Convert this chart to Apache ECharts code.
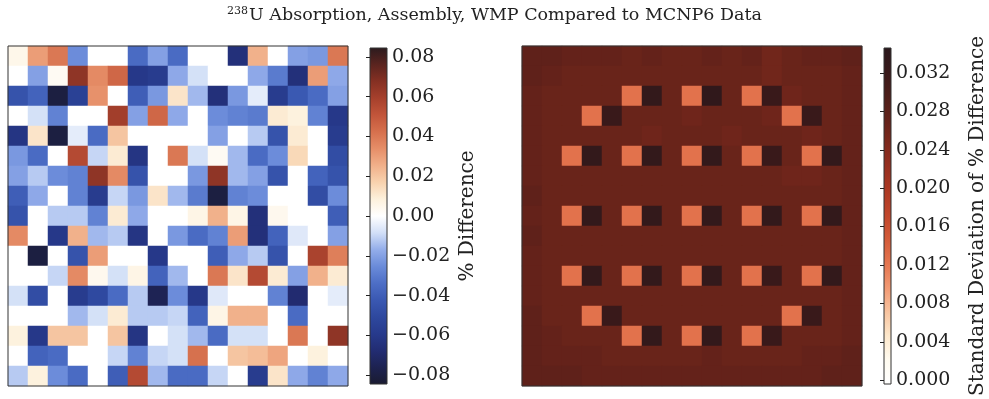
<!DOCTYPE html>
<html>
<head>
<meta charset="utf-8">
<script src="https://cdn.jsdelivr.net/npm/echarts@6/dist/echarts.min.js"></script>
<style>
  html, body { margin: 0; padding: 0; background: #fff; }
  #main { width: 989px; height: 399px; }
</style>
</head>
<body>
<div id="main"></div>
<script>
// % difference per pin, rows top to bottom
var diffRows = [
  [0.005, 0.03, 0.04, -0.025, 0, 0, -0.035, -0.02, -0.035, 0, 0, -0.065, 0.025, 0, -0.02, -0.022, 0.04],
  [0, -0.02, 0.003, 0.065, 0.035, 0.045, -0.06, -0.058, -0.018, -0.008, 0, 0, -0.018, -0.03, -0.065, 0.03, -0.018],
  [-0.045, -0.038, -0.08, -0.055, 0.033, 0, -0.04, -0.022, 0.012, -0.015, -0.065, -0.022, -0.005, -0.058, -0.042, -0.035, -0.02],
  [0, -0.008, -0.028, 0, 0, 0.06, -0.02, 0.045, -0.018, 0, -0.025, -0.028, -0.03, 0.01, 0.008, -0.028, -0.06],
  [-0.062, 0.012, -0.08, -0.005, -0.035, 0.02, 0, 0, 0, 0, -0.02, 0, -0.012, -0.045, 0.01, 0, -0.058],
  [-0.022, -0.035, 0, 0.055, -0.01, 0.01, -0.062, 0, 0.04, -0.008, 0.003, -0.015, -0.035, -0.025, 0.015, 0, -0.048],
  [-0.02, -0.012, -0.025, -0.028, 0.065, 0.035, -0.045, 0, 0, -0.022, 0.065, -0.015, -0.02, -0.045, 0, -0.038, -0.045],
  [-0.04, -0.018, 0, -0.028, -0.058, -0.01, -0.022, 0.012, -0.015, -0.03, -0.08, -0.028, -0.025, 0, 0, -0.048, -0.025],
  [-0.045, 0, -0.012, -0.012, -0.028, 0.01, -0.018, 0, 0, 0.006, 0.025, 0.006, -0.065, 0.004, 0, 0, -0.04],
  [0.035, 0, -0.06, 0.025, -0.015, -0.012, -0.062, 0, -0.022, -0.035, -0.028, 0.03, -0.065, -0.038, -0.006, 0, -0.02],
  [0, -0.08, 0, -0.045, 0.03, 0, 0, -0.06, 0, 0, -0.04, -0.018, -0.012, -0.045, 0, 0.058, 0.038],
  [0, 0, -0.01, 0.035, 0.004, -0.008, 0.006, -0.038, -0.015, 0, 0.04, 0.012, 0.055, 0.01, -0.02, 0.025, 0.01],
  [-0.008, -0.048, 0, -0.058, -0.05, -0.035, -0.012, -0.075, -0.025, -0.06, -0.006, 0, 0, -0.028, -0.068, 0, -0.005],
  [0, 0, 0, -0.015, -0.008, 0.01, -0.012, -0.012, -0.01, -0.038, 0.006, 0.025, 0.025, 0, -0.035, 0, 0],
  [0.008, -0.06, 0.02, 0.02, 0, 0.02, -0.062, 0, -0.008, -0.015, -0.035, -0.008, -0.008, 0, 0.04, 0, 0.065],
  [0, -0.038, -0.035, 0, 0, -0.01, -0.028, -0.01, -0.008, 0.042, 0, 0.02, 0.022, 0.028, 0, 0.008, 0],
  [-0.012, 0.008, -0.025, -0.035, 0, -0.04, 0.055, -0.015, -0.035, -0.035, -0.01, 0, -0.058, 0.012, -0.018, -0.028, -0.018]
];

// standard deviation of % difference per pin
var stdRows = [
  [0.0275, 0.0275, 0.027, 0.027, 0.027, 0.0265, 0.027, 0.0265, 0.0265, 0.027, 0.0265, 0.027, 0.0258, 0.0265, 0.027, 0.027, 0.0275],
  [0.0275, 0.027, 0.0265, 0.0265, 0.0265, 0.0265, 0.0265, 0.0265, 0.0265, 0.0265, 0.0265, 0.0265, 0.0258, 0.0265, 0.0265, 0.0265, 0.027],
  [0.027, 0.0265, 0.0265, 0.0265, 0.0265, 0.0125, 0.033, 0.0265, 0.0125, 0.0335, 0.0265, 0.0125, 0.032, 0.026, 0.0265, 0.0265, 0.027],
  [0.027, 0.0265, 0.0265, 0.0125, 0.032, 0.0265, 0.0265, 0.0265, 0.026, 0.0265, 0.0265, 0.0265, 0.026, 0.0125, 0.032, 0.0265, 0.027],
  [0.027, 0.0265, 0.0265, 0.0265, 0.0265, 0.0265, 0.026, 0.0265, 0.0265, 0.0265, 0.026, 0.0265, 0.0265, 0.0265, 0.026, 0.0265, 0.027],
  [0.027, 0.0265, 0.0125, 0.033, 0.0265, 0.0125, 0.033, 0.0265, 0.0125, 0.033, 0.0265, 0.0125, 0.032, 0.0265, 0.0125, 0.033, 0.027],
  [0.027, 0.0265, 0.0265, 0.0265, 0.0265, 0.0265, 0.0265, 0.0265, 0.0265, 0.0265, 0.0265, 0.0265, 0.0265, 0.026, 0.026, 0.0265, 0.027],
  [0.0275, 0.0265, 0.0265, 0.0265, 0.0265, 0.0265, 0.0265, 0.0265, 0.0265, 0.0265, 0.0265, 0.0265, 0.0265, 0.0265, 0.0265, 0.0265, 0.027],
  [0.027, 0.0265, 0.0125, 0.033, 0.0265, 0.0125, 0.033, 0.0265, 0.0125, 0.033, 0.0265, 0.0125, 0.033, 0.0265, 0.0125, 0.033, 0.027],
  [0.0275, 0.0265, 0.0265, 0.0265, 0.0265, 0.0265, 0.0265, 0.0265, 0.0265, 0.0265, 0.0265, 0.0265, 0.0265, 0.0265, 0.0265, 0.0265, 0.027],
  [0.027, 0.0265, 0.0265, 0.0265, 0.0265, 0.0265, 0.0265, 0.0265, 0.0265, 0.0265, 0.0265, 0.0265, 0.0265, 0.0265, 0.0265, 0.0265, 0.027],
  [0.027, 0.0265, 0.0125, 0.033, 0.0265, 0.0125, 0.033, 0.0265, 0.0125, 0.033, 0.0265, 0.0125, 0.032, 0.0265, 0.0125, 0.033, 0.027],
  [0.027, 0.0265, 0.0265, 0.0265, 0.0265, 0.0265, 0.0265, 0.0265, 0.0265, 0.0265, 0.0265, 0.0265, 0.0265, 0.0265, 0.0265, 0.0265, 0.027],
  [0.0275, 0.0265, 0.0265, 0.0125, 0.032, 0.0265, 0.0265, 0.0265, 0.0265, 0.0265, 0.0265, 0.0265, 0.0265, 0.0125, 0.032, 0.0265, 0.027],
  [0.0275, 0.027, 0.0265, 0.0265, 0.0265, 0.0125, 0.033, 0.0265, 0.0125, 0.033, 0.0265, 0.0125, 0.032, 0.0265, 0.0265, 0.0265, 0.027],
  [0.0275, 0.027, 0.027, 0.027, 0.0265, 0.0265, 0.0265, 0.0265, 0.0265, 0.027, 0.0265, 0.0265, 0.0265, 0.0265, 0.027, 0.027, 0.0275],
  [0.0275, 0.0275, 0.0275, 0.027, 0.027, 0.027, 0.027, 0.027, 0.027, 0.027, 0.027, 0.027, 0.027, 0.027, 0.027, 0.0275, 0.0275]
];

var pins = ['0','1','2','3','4','5','6','7','8','9','10','11','12','13','14','15','16'];

var diffTicks = [-0.08, -0.06, -0.04, -0.02, 0, 0.02, 0.04, 0.06, 0.08];
var stdTicks = [0, 0.004, 0.008, 0.012, 0.016, 0.020, 0.024, 0.028, 0.032];

var diffMin = -0.0844, diffMax = 0.0844;
var stdMin = -0.0004, stdMax = 0.0346;

// evenly spaced colour stops
var diffColors = ['#1a1b30', '#1d2250', '#222c72', '#273a8c', '#2e489e', '#3a58b2', '#4d6ec6',
  '#6a8bd9', '#93adea', '#d2dff7', '#ffffff', '#fdf1dc', '#f8d2ae', '#f1b08a', '#e68e68',
  '#d6704d', '#c2553a', '#a6402c', '#853023', '#5a241f', '#2b1b1e'];
var stdColors = ['#ffffff', '#fffbf0', '#fde8cc', '#f8c4a0', '#f29a74', '#e57650', '#d45c3a',
  '#c2472c', '#ae3a24', '#983020', '#7e291c', '#63221a', '#4c1e1a', '#38191a', '#2a181c'];

var FONT = 'DejaVu Serif';

function toCells(rows) {
  var out = [];
  rows.forEach(function (r, j) {
    r.forEach(function (v, i) { out.push([i, j, v]); });
  });
  return out;
}

function gradient(colors) {
  // bottom of the bar is the first colour
  return {
    type: 'linear', x: 0, y: 1, x2: 0, y2: 0,
    colorStops: colors.map(function (c, i) { return {offset: i / (colors.length - 1), color: c}; })
  };
}

function fmtTick(v, digits) {
  var s = Math.abs(v).toFixed(digits);
  return (v < 0 ? '\u2212' : '') + s;
}

var myChart = echarts.init(document.getElementById('main'));

// 17 x 20px cells so the cell edges land on whole pixels (no seams)
option = {
  animation: false,
  backgroundColor: '#fff',
  title: {
    text: '{sup|238}U Absorption, Assembly, WMP Compared to MCNP6 Data',
    left: 'center',
    top: 1,
    textStyle: {
      fontFamily: FONT, fontSize: 17.5, fontWeight: 'normal', color: '#222',
      rich: {
        sup: {fontFamily: FONT, fontSize: 11, color: '#222', verticalAlign: 'top', padding: [0, 1, 8, 0]}
      }
    }
  },
  grid: [
    {left: 8, top: 46, width: 340, height: 340, show: true, z: 5, backgroundColor: 'transparent', borderColor: '#333', borderWidth: 1},
    {left: 370, top: 48, width: 17, height: 336, show: true, borderColor: '#333', borderWidth: 1, backgroundColor: gradient(diffColors)},
    {left: 522, top: 46, width: 340, height: 340, show: true, z: 5, backgroundColor: 'transparent', borderColor: '#333', borderWidth: 1},
    {left: 884, top: 48, width: 18, height: 336, show: true, borderColor: '#333', borderWidth: 1, backgroundColor: gradient(stdColors)}
  ],
  xAxis: [
    {type: 'category', gridIndex: 0, data: pins, show: false},
    {type: 'value', gridIndex: 1, min: 0, max: 1, show: false},
    {type: 'category', gridIndex: 2, data: pins, show: false},
    {type: 'value', gridIndex: 3, min: 0, max: 1, show: false}
  ],
  yAxis: [
    {type: 'category', gridIndex: 0, data: pins, inverse: true, show: false},
    {
      type: 'value', gridIndex: 1, min: diffMin, max: diffMax, position: 'right',
      name: '% Difference', nameLocation: 'middle', nameRotate: 90, nameGap: 71,
      nameTextStyle: {fontFamily: FONT, fontSize: 20, color: '#222'},
      axisLine: {show: false},
      splitLine: {show: false},
      axisTick: {show: true, inside: true, length: 4, lineStyle: {color: '#222'}, customValues: diffTicks},
      axisLabel: {
        margin: 5, fontFamily: FONT, fontSize: 19, color: '#222', customValues: diffTicks,
        formatter: function (v) { return fmtTick(v, 2); }
      }
    },
    {type: 'category', gridIndex: 2, data: pins, inverse: true, show: false},
    {
      type: 'value', gridIndex: 3, min: stdMin, max: stdMax, position: 'right',
      name: 'Standard Deviation of % Difference', nameLocation: 'middle', nameRotate: 90, nameGap: 77,
      nameTextStyle: {fontFamily: FONT, fontSize: 20, color: '#222'},
      axisLine: {show: false},
      splitLine: {show: false},
      axisTick: {show: true, inside: true, length: 4, lineStyle: {color: '#222'}, customValues: stdTicks},
      axisLabel: {
        margin: 5, fontFamily: FONT, fontSize: 19, color: '#222', customValues: stdTicks,
        formatter: function (v) { return fmtTick(v, 3); }
      }
    }
  ],
  visualMap: [
    {type: 'continuous', show: false, seriesIndex: 0, min: diffMin, max: diffMax, inRange: {color: diffColors}},
    {type: 'continuous', show: false, seriesIndex: 1, min: stdMin, max: stdMax, inRange: {color: stdColors}}
  ],
  series: [
    {
      name: 'diff', type: 'heatmap', xAxisIndex: 0, yAxisIndex: 0,
      data: toCells(diffRows), itemStyle: {borderWidth: 0}, emphasis: {disabled: true}
    },
    {
      name: 'std', type: 'heatmap', xAxisIndex: 2, yAxisIndex: 2,
      data: toCells(stdRows), itemStyle: {borderWidth: 0}, emphasis: {disabled: true}
    }
  ]
};

myChart.setOption(option);
</script>
</body>
</html>
